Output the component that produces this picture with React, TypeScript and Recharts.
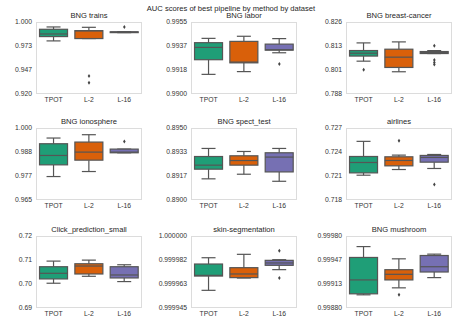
import React from 'react';
import { ComposedChart, Bar, Scatter, XAxis, YAxis } from 'recharts';

const methods = ['TPOT', 'L-2', 'L-16'];
const colors = ['#1f9e77', '#d9600a', '#7670b3'];
const mainTitle = 'AUC scores of best pipeline by method by dataset';

const titles = [
  'BNG trains', 'BNG labor', 'BNG breast-cancer',
  'BNG ionosphere', 'BNG spect_test', 'airlines',
  'Click_prediction_small', 'skin-segmentation', 'BNG mushroom',
];

const domains: [number, number][] = [
  [0.92, 1.0], [0.99, 0.9955], [0.788, 0.826],
  [0.965, 1.0], [0.89, 0.895], [0.718, 0.727],
  [0.69, 0.72], [0.999945, 1.0], [0.9988, 0.9998],
];
const decimals = [3, 4, 3, 3, 4, 3, 2, 6, 5];

// [whiskerLow, q1, median, q3, whiskerHigh] per method
const stats: number[][][] = [
  [[0.979, 0.9838, 0.9867, 0.9919, 0.9945], [0.9816, 0.9816, 0.9901, 0.9904, 0.9941], [0.9882, 0.9882, 0.9888, 0.9891, 0.9893]],
  [[0.9915, 0.99262, 0.99356, 0.99392, 0.99425], [0.99171, 0.99238, 0.99244, 0.99402, 0.99441], [0.99315, 0.99335, 0.99338, 0.99381, 0.99423]],
  [[0.80533, 0.80802, 0.80954, 0.81094, 0.81497], [0.79974, 0.80201, 0.80744, 0.81164, 0.8155], [0.80936, 0.80936, 0.8099, 0.81041, 0.8109]],
  [[0.9764, 0.98209, 0.98665, 0.99235, 0.99512], [0.97884, 0.98437, 0.98828, 0.99316, 0.99674], [0.98795, 0.98795, 0.98828, 0.98974, 0.98974]],
  [[0.89147, 0.89214, 0.89242, 0.89302, 0.89358], [0.89179, 0.89242, 0.89274, 0.89307, 0.89337], [0.8913, 0.89195, 0.89298, 0.89328, 0.89358]],
  [[0.7211, 0.72139, 0.72269, 0.72344, 0.72533], [0.72181, 0.72227, 0.72294, 0.7234, 0.72361], [0.72194, 0.72273, 0.72332, 0.72357, 0.72369]],
  [[0.70032, 0.70211, 0.70445, 0.7072, 0.70954], [0.70321, 0.70417, 0.70748, 0.70844, 0.70995], [0.70101, 0.70252, 0.70376, 0.7072, 0.70802]],
  [[0.9999585, 0.9999694, 0.99996995, 0.9999786, 0.9999834], [0.9999679, 0.9999682, 0.999971, 0.9999758, 0.999986], [0.9999743, 0.9999776, 0.9999794, 0.9999814, 0.9999819]],
  [[0.998983, 0.998997, 0.99919, 0.999502, 0.999653], [0.99908, 0.99919, 0.999268, 0.999332, 0.999483], [0.999222, 0.9993, 0.999373, 0.999529, 0.999548]],
];

// outliers per panel: [methodIndex, value]
const outliers: [number, number][][] = [
  [[1, 0.9399], [1, 0.9325], [2, 0.9945]],
  [[2, 0.9923]],
  [[0, 0.80078], [2, 0.8134], [2, 0.806], [2, 0.8046], [2, 0.8036]],
  [[2, 0.99349]],
  [],
  [[1, 0.72541], [2, 0.71993]],
  [],
  [[2, 0.9999888], [2, 0.9999679]],
  [[1, 0.998983]],
];

const colLefts = [36, 191, 346];
const rowTops = [22, 128, 236];
const frameW = 106;
const frameH = 72;
const yAxisW = 36;
const xAxisH = 14;
const padTop = 6;
const font = 'Liberation Sans, Arial, Helvetica, sans-serif';

const BoxShape = (props: any) => {
  const { x, y, width, height, payload } = props;
  const [lo, q1, med, q3, hi] = payload.s;
  const top = Math.min(y, y + height);
  const h = Math.abs(height);
  const py = (v: number) => (hi === lo ? top : top + ((hi - v) / (hi - lo)) * h);
  const cx = x + width / 2;
  const capW = width * 0.5;
  const edge = '#555555';
  return (
    <g>
      <line x1={cx} x2={cx} y1={py(hi)} y2={py(q3)} stroke={edge} strokeWidth={1.2} />
      <line x1={cx} x2={cx} y1={py(q1)} y2={py(lo)} stroke={edge} strokeWidth={1.2} />
      <line x1={cx - capW / 2} x2={cx + capW / 2} y1={py(hi)} y2={py(hi)} stroke={edge} strokeWidth={1.2} />
      <line x1={cx - capW / 2} x2={cx + capW / 2} y1={py(lo)} y2={py(lo)} stroke={edge} strokeWidth={1.2} />
      <rect x={x} y={py(q3)} width={width} height={Math.max(py(q1) - py(q3), 0.5)} fill={payload.color} stroke={edge} strokeWidth={1.2} />
      <line x1={x} x2={x + width} y1={py(med)} y2={py(med)} stroke={edge} strokeWidth={1.2} />
    </g>
  );
};

const Diamond = (props: any) => {
  const { cx, cy } = props;
  if (cx == null || cy == null) return null;
  return <path d={`M${cx},${cy - 2}L${cx + 1.3},${cy}L${cx},${cy + 2}L${cx - 1.3},${cy}Z`} fill="#444" />;
};

function Panel({ i }: { i: number }) {
  const col = i % 3;
  const row = Math.floor(i / 3);
  const left = colLefts[col];
  const top = rowTops[row];
  const [d0, d1] = domains[i];
  const ticks = [0, 1, 2, 3].map((k) => d0 + ((d1 - d0) * k) / 3);
  const data = methods.map((m, j) => ({
    cat: m,
    range: [stats[i][j][0], stats[i][j][4]],
    s: stats[i][j],
    color: colors[j],
  }));
  const outData = outliers[i].map(([j, v]) => ({ cat: methods[j], v }));
  return (
    <>
      <div
        style={{
          position: 'absolute', left, top: top - 12, width: frameW, height: 11,
          lineHeight: '11px', textAlign: 'center', fontSize: 7.6, color: '#262626', fontFamily: font,
          whiteSpace: 'nowrap',
        }}
      >
        {titles[i]}
      </div>
      <div
        style={{
          position: 'absolute', left, top, width: frameW, height: frameH,
          boxSizing: 'border-box', border: '1px solid #dcdcdc',
        }}
      />
      <div style={{ position: 'absolute', left: left - yAxisW, top: top - padTop }}>
        <ComposedChart
          width={yAxisW + frameW}
          height={frameH + xAxisH + padTop}
          data={data}
          margin={{ top: padTop, right: 0, left: 0, bottom: 0 }}
          barCategoryGap="10%"
        >
          <XAxis
            dataKey="cat"
            type="category"
            allowDuplicatedCategory={false}
            axisLine={false}
            tickLine={false}
            tickSize={0}
            tickMargin={3}
            height={xAxisH}
            interval={0}
            tick={{ fontSize: 6.8, fill: '#333', fontFamily: font }}
          />
          <YAxis
            type="number"
            domain={[d0, d1]}
            ticks={ticks}
            allowDataOverflow
            axisLine={false}
            tickLine={false}
            tickSize={0}
            tickMargin={4}
            width={yAxisW}
            interval={0}
            tickFormatter={(v: number) => v.toFixed(decimals[i])}
            tick={{ fontSize: 6.8, fill: '#333', fontFamily: font }}
          />
          <Bar dataKey="range" shape={<BoxShape />} isAnimationActive={false} />
          <Scatter data={outData} dataKey="v" shape={<Diamond />} isAnimationActive={false} />
        </ComposedChart>
      </div>
    </>
  );
}

export default function App() {
  return (
    <div style={{ position: 'absolute', left: 0, top: 0, width: 462, height: 333, background: '#fff', overflow: 'hidden' }}>
      <div
        style={{
          position: 'absolute', left: 0, top: 3, width: 462, height: 11, lineHeight: '11px',
          textAlign: 'center', fontSize: 7.6, color: '#262626', fontFamily: font, whiteSpace: 'nowrap',
        }}
      >
        {mainTitle}
      </div>
      {titles.map((_, i) => (
        <Panel key={i} i={i} />
      ))}
    </div>
  );
}
